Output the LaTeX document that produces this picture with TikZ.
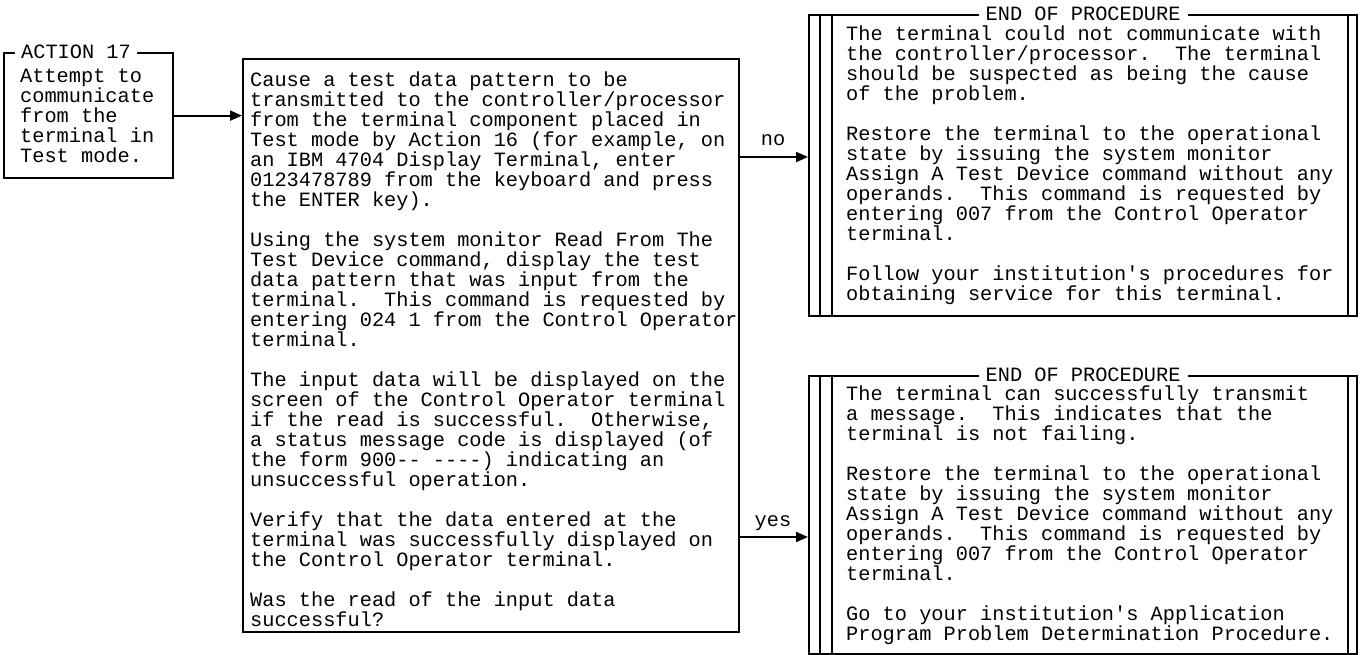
\documentclass[tikz,border=0pt]{standalone}
\usepackage{fontspec}
\setmonofont{Liberation Mono}
\usetikzlibrary{arrows.meta,calc,positioning}
\tikzset{
map box/.style={draw=black, line width=2.2pt, inner sep=0pt},
map text/.style={font=\ttfamily\fontsize{20.3}{20}\selectfont, align=left, inner sep=0pt, anchor=base west},
map flow/.style={draw=black, line width=2pt, -{Triangle[length=12pt,width=10pt]}},
map label/.style={font=\ttfamily\fontsize{20.3}{20}\selectfont, fill=white, inner xsep=7pt, inner ysep=2pt},
branch label/.style={font=\ttfamily\fontsize{20.3}{20}\selectfont, inner sep=0pt, anchor=base}
}
\frenchspacing
\begin{document}
\begin{tikzpicture}[x=1pt,y=-1pt]
\useasboundingbox (0,0) rectangle (1363,655);
% boxes
\node[map box, anchor=north west, minimum width=169pt, minimum height=125pt] (act) at (3,52) {};
\node[map box, anchor=north west, minimum width=496pt, minimum height=573pt] (test) at (242,58) {};
\node[map box, anchor=north west, minimum width=548pt, minimum height=301pt] (endfail) at (808,14) {};
\node[map box, anchor=north west, minimum width=548pt, minimum height=278pt] (endok) at (808,375) {};
\foreach \b in {endfail,endok} {
  \foreach \dx in {12,24}
    \draw[map box] ($(\b.north west)+(\dx,0)$) -- ($(\b.south west)+(\dx,0)$);
  \draw[map box] ($(\b.north east)+(-10,0)$) -- ($(\b.south east)+(-10,0)$);
  \node[map label] at (\b.north) {END OF PROCEDURE};
}
\node[map label, anchor=west, inner xsep=6pt] (acthead) at ($(act.north west)+(12,0)$) {ACTION 17};
% texts (anchored on the baseline of their last line)
\node[map text] (acttext) at (20,163) {Attempt to\\communicate\\from the\\terminal in\\Test mode.};
\node[map text] (testtext) at (250,626) {Cause a test data pattern to be\\
transmitted to the controller/processor\\
from the terminal component placed in\\
Test mode by Action 16 (for example, on\\
an IBM 4704 Display Terminal, enter\\
0123478789 from the keyboard and press\\
the ENTER key).\\[20pt]
Using the system monitor Read From The\\
Test Device command, display the test\\
data pattern that was input from the\\
terminal.\ \ This command is requested by\\
entering 024 1 from the Control Operator\\
terminal.\\[20pt]
The input data will be displayed on the\\
screen of the Control Operator terminal\\
if the read is successful.\ \ Otherwise,\\
a status message code is displayed (of\\
the form 900-- ----) indicating an\\
unsuccessful operation.\\[20pt]
Verify that the data entered at the\\
terminal was successfully displayed on\\
the Control Operator terminal.\\[20pt]
Was the read of the input data\\
successful?};
\node[map text] (failtext) at (846,300) {The terminal could not communicate with\\
the controller/processor.\ \ The terminal\\
should be suspected as being the cause\\
of the problem.\\[20pt]
Restore the terminal to the operational\\
state by issuing the system monitor\\
Assign A Test Device command without any\\
operands.\ \ This command is requested by\\
entering 007 from the Control Operator\\
terminal.\\[20pt]
Follow your institution's procedures for\\
obtaining service for this terminal.};
\node[map text] (oktext) at (846,640) {The terminal can successfully transmit\\
a message.\ \ This indicates that the\\
terminal is not failing.\\[20pt]
Restore the terminal to the operational\\
state by issuing the system monitor\\
Assign A Test Device command without any\\
operands.\ \ This command is requested by\\
entering 007 from the Control Operator\\
terminal.\\[20pt]
Go to your institution's Application\\
Program Problem Determination Procedure.};
% connectors
\coordinate (nopt) at (0,157);
\coordinate (yespt) at (0,537);
\draw[map flow] (act.east) -- (act.east -| test.west);
\draw[map flow] (test.east |- nopt) -- (endfail.west |- nopt);
\draw[map flow] (test.east |- yespt) -- (endok.west |- yespt);
\node[branch label] (nolab) at (773,146) {no};
\node[branch label] (yeslab) at (773,526) {yes};
\end{tikzpicture}
\end{document}
